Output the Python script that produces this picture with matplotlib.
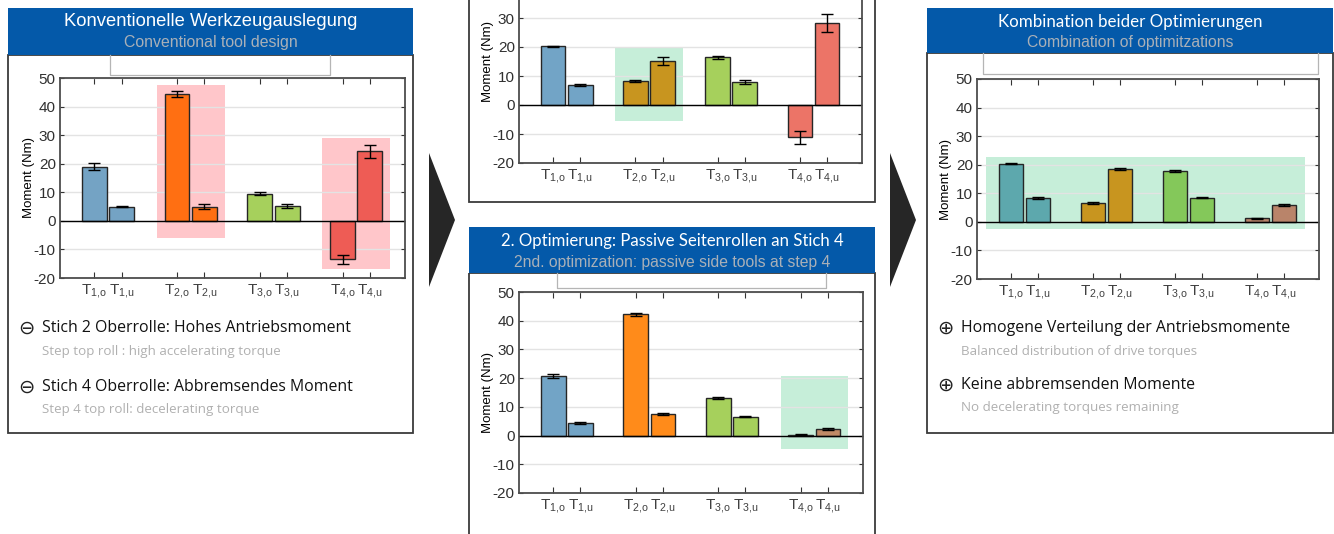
import numpy as np
import matplotlib
matplotlib.use("Agg")
import matplotlib.pyplot as plt
from matplotlib.patches import Rectangle, Polygon

plt.rcParams["font.family"] = "Liberation Sans"
plt.rcParams["mathtext.fontset"] = "custom"
plt.rcParams["mathtext.rm"] = "Liberation Sans"
plt.rcParams["mathtext.it"] = "Liberation Sans"

W, H = 1334, 534

# --- data -------------------------------------------------------------
groups = [1, 2, 3, 4]
tick_labels = [r"$\mathrm{T}_{\mathrm{1{,}o}}$", r"$\mathrm{T}_{\mathrm{1{,}u}}$",
               r"$\mathrm{T}_{\mathrm{2{,}o}}$", r"$\mathrm{T}_{\mathrm{2{,}u}}$",
               r"$\mathrm{T}_{\mathrm{3{,}o}}$", r"$\mathrm{T}_{\mathrm{3{,}u}}$",
               r"$\mathrm{T}_{\mathrm{4{,}o}}$", r"$\mathrm{T}_{\mathrm{4{,}u}}$"]
yticks = [-20, -10, 0, 10, 20, 30, 40, 50]

conv_vals = [19.0, 5.0, 44.5, 5.0, 9.5, 5.3, -13.5, 24.3]
conv_err = [1.1, 0.3, 1.0, 0.9, 0.5, 0.7, 1.7, 2.2]
opt1_vals = [20.2, 7.0, 8.3, 15.2, 16.5, 8.0, -11.2, 28.3]
opt1_err = [0.3, 0.4, 0.3, 1.3, 0.5, 0.7, 2.2, 3.0]
opt2_vals = [20.8, 4.5, 42.3, 7.6, 13.0, 6.6, 0.3, 2.3]
opt2_err = [0.6, 0.3, 0.5, 0.3, 0.3, 0.3, 0.1, 0.4]
comb_vals = [20.4, 8.3, 6.5, 18.6, 17.8, 8.5, 1.2, 6.0]
comb_err = [0.3, 0.3, 0.4, 0.3, 0.3, 0.3, 0.2, 0.4]

conv_colors = ["#74A3C4", "#FF6F12", "#A6D05C", "#EE5C55"]
opt1_colors = ["#72A4C6", "#C8951F", "#A6D05C", "#EC7467"]
opt2_colors = ["#72A4C6", "#FF8B1A", "#A6D05C", "#C18A66"]
comb_colors = ["#5DA8AD", "#C8951F", "#84C85A", "#B9846A"]

# highlighted regions: (x from, x to, y from, y to) in axis units
conv_hl = [(1.59, 2.41, -6.0, 47.5), (3.59, 4.41, -17.0, 29.0)]
opt1_hl = [(1.59, 2.41, -5.5, 19.8)]
opt2_hl = [(3.59, 4.41, -4.7, 20.7)]
comb_hl = [(0.53, 4.42, -2.5, 22.8)]

PINK, MINT = "#FFC6CA", "#C6EED9"
BLUE = "#0459A9"

fig = plt.figure(figsize=(W / 100, H / 100), dpi=100)
bg = fig.add_axes([0, 0, 1, 1])
bg.set_xlim(0, W); bg.set_ylim(H, 0); bg.axis("off")


def px_axes(x0, y0, x1, y1):
    return fig.add_axes([x0 / W, 1 - y1 / H, (x1 - x0) / W, (y1 - y0) / H])


def bar_panel(rect, vals, err, colors, hls, hl_color, top_cut=None):
    ax = px_axes(*rect)
    xs, cs = [], []
    for g, c in zip(groups, colors):
        xs += [g - 0.165, g + 0.165]
        cs += [c, c]
    for x0, x1, y0, y1 in hls:
        ax.add_patch(Rectangle((x0, y0), x1 - x0, y1 - y0, color=hl_color,
                               lw=0, zorder=0.5))
    ax.bar(xs, vals, width=0.30, color=cs, edgecolor="#262626", lw=1.0, zorder=2)
    ax.errorbar(xs, vals, yerr=err, fmt="none", ecolor="black", elinewidth=1,
                capsize=4.5, capthick=1, zorder=3)
    ax.axhline(0, color="black", lw=1, zorder=2.5)
    ax.set_xlim(0.42, 4.59); ax.set_ylim(-20, 50)
    ax.set_yticks(yticks)
    ax.set_yticklabels([str(t) if top_cut is None or t <= top_cut else ""
                        for t in yticks])
    ax.yaxis.grid(True, color="#E3E3E3", lw=1); ax.set_axisbelow(True)
    ax.set_xticks(xs)
    ax.set_xticklabels(tick_labels, fontsize=11, color="#404040")
    ax.tick_params(axis="x", direction="in", top=True, length=4, pad=3,
                   color="#333333")
    ax.tick_params(axis="y", direction="in", right=True, length=3, pad=3,
                   labelsize=11, labelcolor="#303030", color="#333333")
    for s in ax.spines.values():
        s.set_color("#4D4D4D"); s.set_linewidth(1.3)
    ax.set_ylabel("Moment (Nm)", fontsize=9.5, labelpad=-1)
    return ax


def frame(x0, y0, x1, y1):
    bg.add_patch(Rectangle((x0, y0), x1 - x0, y1 - y0, fill=False,
                           ec="#3A3A3A", lw=1.3))


def header(x0, y0, x1, y1, title, sub, tfont, tsize, ssize):
    bg.add_patch(Rectangle((x0, y0), x1 - x0, y1 - y0, color=BLUE, lw=0))
    cx = (x0 + x1) / 2
    bg.text(cx, y0 + 14, title, color="white", fontsize=tsize, family=tfont,
            ha="center", va="center")
    bg.text(cx, y0 + 35, sub, color="#A9B0B8", fontsize=ssize,
            ha="center", va="center")


def legend_stub(x0, y0, x1, y1):
    bg.plot([x0, x0, x1, x1], [y0, y1, y1, y0], color="#B5B5B5", lw=0.9)


def bullet(x, y, sym, main, sub):
    bg.text(x - 1, y, sym, fontsize=14, family="DejaVu Sans", ha="left",
            va="center", color="#222222")
    bg.text(x + 23, y, main, fontsize=11.4, family="Open Sans", ha="left",
            va="center", color="#111111")
    bg.text(x + 23, y + 23, sub, fontsize=9.6, family="Open Sans", ha="left",
            va="center", color="#B0B0B0")


# panel frames and headers
frame(8, 55, 413, 433)
header(8, 8, 413, 55, "Konventionelle Werkzeugauslegung", "Conventional tool design",
       "Liberation Sans", 13.2, 11.4)
legend_stub(110, 55, 330, 75)

frame(469, -5, 875, 202)

frame(469, 273, 875, 540)
header(469, 227, 875, 273, "2. Optimierung: Passive Seitenrollen an Stich 4",
       "2nd. optimization: passive side tools at step 4", "Lato", 12.1, 11.3)
legend_stub(557, 273, 826, 288)

frame(927, 53, 1333, 433)
header(927, 8, 1333, 53, "Kombination beider Optimierungen",
       "Combination of optimitzations", "Lato", 12.2, 11.3)
legend_stub(983, 53, 1318, 74)

# chevrons
for ax0 in (429, 890):
    bg.add_patch(Polygon([(ax0, 153), (ax0 + 26, 220), (ax0, 287)],
                         closed=True, color="#262626", lw=0))

bullet(19, 328, "\u2296", "Stich 2 Oberrolle: Hohes Antriebsmoment",
       "Step top roll : high accelerating torque")
bullet(19, 387, "\u2296", "Stich 4 Oberrolle: Abbremsendes Moment",
       "Step 4 top roll: decelerating torque")
bullet(938, 328, "\u2295", "Homogene Verteilung der Antriebsmomente",
       "Balanced distribution of drive torques")
bullet(938, 385, "\u2295", "Keine abbremsenden Momente",
       "No decelerating torques remaining")

# bar charts
bar_panel((60, 78, 405, 278), conv_vals, conv_err, conv_colors, conv_hl, PINK)
bar_panel((519, -40, 862, 163), opt1_vals, opt1_err, opt1_colors, opt1_hl, MINT,
          top_cut=30)
bar_panel((519, 292, 863, 493), opt2_vals, opt2_err, opt2_colors, opt2_hl, MINT)
bar_panel((977, 79, 1319, 279), comb_vals, comb_err, comb_colors, comb_hl, MINT)

fig.savefig("out.png", dpi=100)
